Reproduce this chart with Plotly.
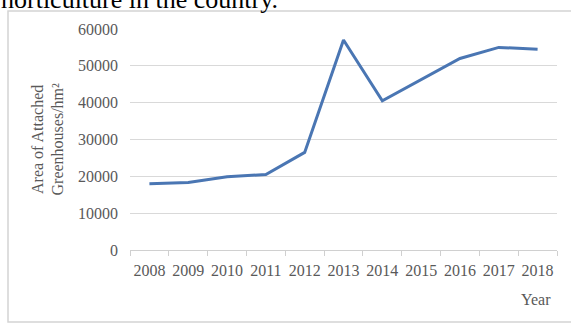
import plotly.graph_objects as go

years = ["2008", "2009", "2010", "2011", "2012", "2013", "2014", "2015", "2016", "2017", "2018"]
area = [18000, 18300, 19900, 20500, 26500, 57000, 40500, 46200, 52000, 55000, 54500]
y_ticks = [0, 10000, 20000, 30000, 40000, 50000, 60000]

font_family = "Liberation Serif, Times New Roman, serif"
grey = "#595959"

fig = go.Figure()
fig.add_trace(go.Scatter(
    x=years, y=area, mode="lines",
    line=dict(color="#4a76b3", width=3),
    showlegend=False,
))

fig.update_layout(
    width=571, height=325,
    margin=dict(l=130, r=14, t=29, b=75),
    paper_bgcolor="white", plot_bgcolor="white",
    font=dict(family=font_family, size=16, color=grey),
    xaxis=dict(
        type="category",
        range=[-0.5, 10.5],
        showgrid=False,
        showline=True, linecolor="#d0d0d0", linewidth=1,
        ticks="outside", tickson="boundaries", ticklen=5, tickcolor="#d0d0d0",
        tickfont=dict(size=16, color=grey),
        tickangle=0,
        ticklabelstandoff=6,
    ),
    yaxis=dict(
        range=[0, 60000],
        tickvals=y_ticks,
        ticktext=[str(v) for v in y_ticks],
        showgrid=True, gridcolor="#d9d9d9", gridwidth=1,
        zeroline=False, showline=False,
        tickfont=dict(size=16, color=grey),
        ticklabelstandoff=11,
    ),
    shapes=[dict(type="rect", xref="paper", yref="paper",
                 x0=-122/427, x1=1.2, y0=-72/221, y1=1 + 18/221,
                 line=dict(color="#d4d4d4", width=1.5), fillcolor="rgba(0,0,0,0)")],
    annotations=[
        dict(text="Area of Attached<br>Greenhouses/hm²", xref="paper", yref="paper",
             x=-83/427, y=0.5, textangle=-90, showarrow=False,
             xanchor="center", yanchor="middle",
             font=dict(size=16, color=grey, family=font_family)),
        dict(text="Year", xref="paper", yref="paper", x=1 - 4/427, y=-39/221,
             xanchor="right", yanchor="top", showarrow=False,
             font=dict(size=16, color=grey, family=font_family)),
        dict(text="horticulture in the country.", xref="paper", yref="paper",
             x=-131/427, y=1 + 13/221, xanchor="left", yanchor="bottom", showarrow=False,
             font=dict(size=26, color="black", family=font_family)),
    ],
)

fig.write_html("out.html")
